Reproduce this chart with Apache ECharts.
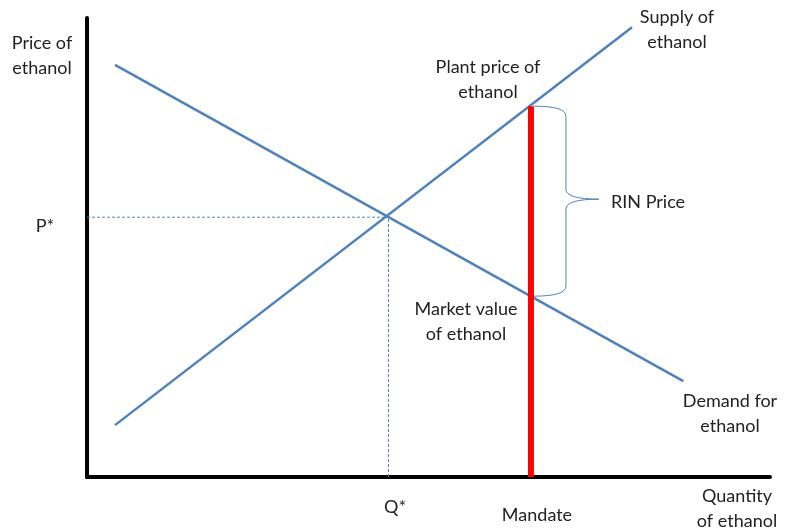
<!DOCTYPE html>
<html>
<head>
<meta charset="utf-8">
<script src="https://cdn.jsdelivr.net/npm/echarts@6/dist/echarts.min.js"></script>
<style>
  html, body { margin: 0; padding: 0; background: #fff; }
  #chart { width: 792px; height: 528px; }
</style>
</head>
<body>
<div id="chart"></div>
<script>
// curve end points (quantity, price on a 0-100 scale)
const supplyLine = [[4.1, 11.3], [79.8, 98.0]]
const demandLine = [[4.1, 89.8], [87.3, 20.9]]
// equilibrium and mandate
const qStar = 44.14
const pStar = 56.6
const mandate = 65.0
const plantPrice = 80.8
const marketValue = 39.4

const blue = '#4f81bd'
const font = 'Lato, "Open Sans", sans-serif'

const chart = echarts.init(document.getElementById('chart'))

// a text block placed on the page, x is the centre unless align says otherwise
const note = (x, y, text, align) => ({
  type: 'text',
  x: x,
  y: y,
  style: {
    text: text,
    fill: '#222',
    font: '18px ' + font,
    lineHeight: 25,
    textAlign: align || 'center',
    textVerticalAlign: 'top'
  }
})

const option = {
  animation: false,
  grid: { left: 87, right: 22, top: 18, bottom: 51 },
  xAxis: {
    type: 'value', min: 0, max: 100,
    axisLine: { show: true, onZero: false, lineStyle: { color: '#000', width: 4 } },
    axisTick: { show: false }, axisLabel: { show: false }, splitLine: { show: false }
  },
  yAxis: {
    type: 'value', min: 0, max: 100,
    axisLine: { show: true, onZero: false, lineStyle: { color: '#000', width: 4 } },
    axisTick: { show: false }, axisLabel: { show: false }, splitLine: { show: false }
  },
  series: [
    {
      name: 'P* guide', type: 'line', data: [[0, pStar], [qStar, pStar]],
      symbol: 'none', lineStyle: { color: blue, width: 1, type: [3, 2] }
    },
    {
      name: 'Q* guide', type: 'line', data: [[qStar, 0], [qStar, pStar]],
      symbol: 'none', lineStyle: { color: blue, width: 1, type: [3, 2] }
    },
    {
      name: 'Supply', type: 'line', data: supplyLine,
      symbol: 'none', lineStyle: { color: blue, width: 2.5 }
    },
    {
      name: 'Demand', type: 'line', data: demandLine,
      symbol: 'none', lineStyle: { color: blue, width: 2.5 }
    },
    {
      name: 'Mandate', type: 'line', data: [[mandate, 0], [mandate, plantPrice]],
      symbol: 'none', z: 5, lineStyle: { color: '#ff0000', width: 6 }
    },
    {
      // curly brace between plant price and market value
      name: 'RIN brace', type: 'custom', data: [[mandate, plantPrice, marketValue]],
      renderItem: (params, api) => {
        const top = api.coord([api.value(0), api.value(1)])
        const bot = api.coord([api.value(0), api.value(2)])
        const x0 = top[0] + 3
        const x1 = x0 + 32
        const xt = x1 + 33
        const ym = (top[1] + bot[1]) / 2 - 2
        const d = [
          'M', x0, top[1],
          'Q', x1, top[1], x1, top[1] + 10,
          'L', x1, ym - 10,
          'Q', x1, ym, xt, ym,
          'Q', x1, ym, x1, ym + 10,
          'L', x1, bot[1] - 10,
          'Q', x1, bot[1], x0, bot[1]
        ].join(' ')
        return {
          type: 'path',
          shape: { pathData: d },
          style: { fill: 'none', stroke: blue, lineWidth: 1 }
        }
      }
    }
  ],
  graphic: [
    note(42, 31, 'Price of\nethanol'),
    note(45, 214, 'P*'),
    note(677, 5, 'Supply of\nethanol'),
    note(488, 55, 'Plant price of\nethanol'),
    note(611, 190, 'RIN Price', 'left'),
    note(466, 297, 'Market value\nof ethanol'),
    note(730, 389, 'Demand for\nethanol'),
    note(395, 495, 'Q*'),
    note(537, 503, 'Mandate'),
    note(737, 484, 'Quantity\nof ethanol')
  ]
}

chart.setOption(option)
</script>
</body>
</html>
